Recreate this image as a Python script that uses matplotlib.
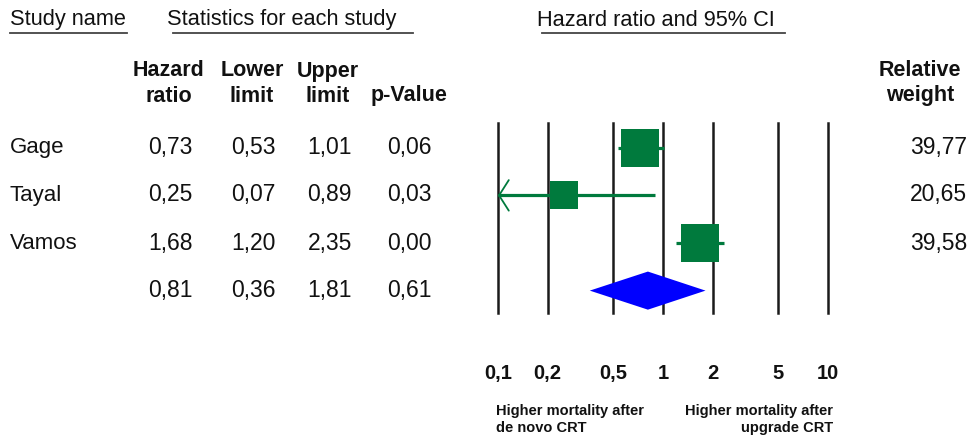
import matplotlib.pyplot as plt
from matplotlib.lines import Line2D
from matplotlib.patches import Polygon

plt.rcParams['font.family'] = ['Liberation Sans', 'DejaVu Sans']

# data
studies = ['Gage', 'Tayal', 'Vamos']
hazard_ratio = [0.73, 0.25, 1.68]
lower_limit = [0.53, 0.07, 1.20]
upper_limit = [1.01, 0.89, 2.35]
p_value = [0.06, 0.03, 0.00]
rel_weight = [39.77, 20.65, 39.58]
summary = [0.81, 0.36, 1.81, 0.61]  # hr, lower, upper, p
ticks = [0.1, 0.2, 0.5, 1, 2, 5, 10]
tick_labels = ['0,1', '0,2', '0,5', '1', '2', '5', '10']

W, H = 970, 442
fig = plt.figure(figsize=(W / 100, H / 100), dpi=100)
TXT = '#111111'
GREEN = '#007A3D'


def fx(x):
    return x / W


def fy(y):
    return 1 - y / H


def fmt(v):
    return f'{v:.2f}'.replace('.', ',')


# column headers (underlined)
for label, x0, x1, xt in [('Study name', 10, 127, 10),
                          ('Statistics for each study', 173, 413, 167),
                          ('Hazard ratio and 95% CI', 542, 785, 537)]:
    fig.text(fx(xt), fy(20), label, fontsize=15.7, color=TXT, va='center', ha='left')
    fig.add_artist(Line2D([fx(x0), fx(x1)], [fy(33), fy(33)], color='#444444', lw=1.3))

# bold sub headers
for lines, xc in [(['Hazard', 'ratio'], 169), (['Lower', 'limit'], 252),
                  (['Upper', 'limit'], 328), (['', 'p-Value'], 409),
                  (['Relative', 'weight'], 920)]:
    for txt, y in zip(lines, [71, 96]):
        fig.text(fx(xc), fy(y), txt, fontsize=15.5, fontweight='bold', color=TXT,
                 ha='center', va='center')

row_y = [148, 195, 243, 291]
col_right = [193, 276, 352, 432]

for i, name in enumerate(studies):
    fig.text(fx(10), fy(row_y[i]), name, fontsize=16, color=TXT, va='center')
    vals = [hazard_ratio[i], lower_limit[i], upper_limit[i], p_value[i]]
    for v, xr in zip(vals, col_right):
        fig.text(fx(xr), fy(row_y[i]), fmt(v), fontsize=16.5, color=TXT, ha='right', va='center')
    fig.text(fx(967), fy(row_y[i]), fmt(rel_weight[i]), fontsize=16.5, color=TXT,
             ha='right', va='center')
for v, xr in zip(summary, col_right):
    fig.text(fx(xr), fy(row_y[3]), fmt(v), fontsize=16.5, color=TXT, ha='right', va='center')

# forest plot axes
ax = fig.add_axes([fx(498), fy(313), 330 / W, 190 / H])
ax.set_xscale('log')
ax.set_xlim(0.1, 10)
ax.set_ylim(3.47, -0.52)
for s in ax.spines.values():
    s.set_visible(False)
ax.set_yticks([])
for t in ticks:
    ax.axvline(t, color='#1a1a1a', lw=1.8, zorder=1, clip_on=False)
ax.set_xticks(ticks)
ax.set_xticklabels(tick_labels, fontsize=14.5, fontweight='bold', color=TXT)
ax.xaxis.set_minor_locator(plt.NullLocator())
ax.tick_params(axis='x', length=0, pad=37)

for i in range(len(studies)):
    lo = max(lower_limit[i], 0.1)
    ax.hlines(i, lo, upper_limit[i], color=GREEN, lw=2.3, zorder=2)
    if lower_limit[i] < 0.1:
        ax.annotate('', xy=(0.1, i), xytext=(0.13, i),
                    arrowprops=dict(arrowstyle='->, head_length=0.35, head_width=0.55',
                                    color=GREEN, lw=1.3, mutation_scale=20, shrinkA=0, shrinkB=0),
                    zorder=2)
    ax.scatter(hazard_ratio[i], i, marker='s', s=rel_weight[i] * 18.9, color=GREEN,
               linewidths=0, zorder=3)

hr, lo, hi = summary[0], summary[1], summary[2]
ax.add_patch(Polygon([(lo, 3), (hr, 3 - 0.4), (hi, 3), (hr, 3 + 0.4)], closed=True,
                     color='#0000FF', lw=0, zorder=3))

# bottom captions
for txt, y in [('Higher mortality after', 411), ('de novo CRT', 428)]:
    fig.text(fx(496), fy(y), txt, fontsize=10.5, fontweight='bold', color=TXT,
             ha='left', va='center')
for txt, y in [('Higher mortality after', 411), ('upgrade CRT', 428)]:
    fig.text(fx(833), fy(y), txt, fontsize=10.5, fontweight='bold', color=TXT,
             ha='right', va='center')

fig.savefig('out.png', dpi=100)
